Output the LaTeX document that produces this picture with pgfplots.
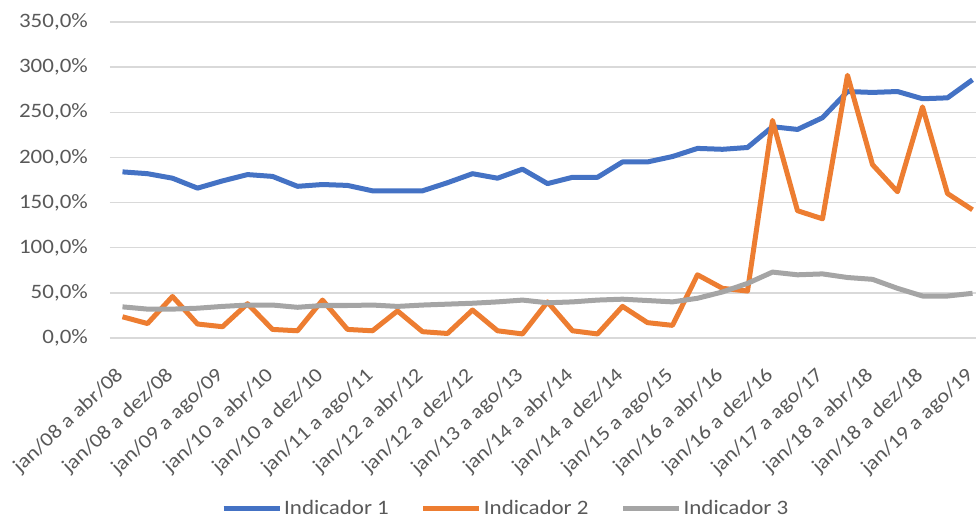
\documentclass[border=0pt]{standalone}
\usepackage{pgfplots}
\pgfplotsset{compat=1.18}
\usepackage{pgfplotstable}
\usepackage{fontspec}
\setmainfont{Carlito}[FakeStretch=1.12]
\definecolor{cblue}{HTML}{4472C4}
\definecolor{corange}{HTML}{ED7D31}
\definecolor{cgray}{HTML}{A5A5A5}
\definecolor{ctext}{HTML}{595959}
\definecolor{cgrid}{HTML}{D9D9D9}
\definecolor{caxis}{HTML}{BFBFBF}

\pgfplotstableread{
i b o g
0 184 23.5 34.5
1 182 16 32
2 177 46 32
3 166 15.5 33
4 174 12.5 35
5 181 38 36.5
6 179 9.5 36.5
7 168 8 34
8 170 42 36
9 169 9.5 36
10 163 8 36.5
11 163 30 35
12 163 7 36.5
13 172 5 37.5
14 182 31 38.5
15 177 8 40
16 187 4.5 42
17 171 40 39
18 178 8 40
19 178 4.5 42
20 195 35 43
21 195 17 41.5
22 201 14 40
23 210 70 44
24 209 55 51
25 211 52 60.5
26 234 241 73
27 231 141 70
28 244 132 71
29 273 291 67
30 272 192 65
31 273 162 55
32 265 256 46.5
33 266 160 46.5
34 286 142 49.5
}\data

\begin{document}
\begin{tikzpicture}
\useasboundingbox (-110bp,-182bp) rectangle (866bp,338bp);
\begin{axis}[
  scale only axis, width=866bp, height=316bp,
  xmin=-0.5, xmax=34.14, ymin=0, ymax=350,
  axis line style={draw=none},
  clip=false,
  ytick={50,100,...,350},
  extra y ticks={0},
  extra y tick style={grid style={draw=caxis, line width=1.3bp}},
  ymajorgrids,
  major grid style={draw=cgrid, line width=1.3bp},
  tick style={draw=none},
  /pgf/number format/assume math mode=true,
  yticklabel={\pgfmathprintnumber[fixed,fixed zerofill,precision=1,use comma]{\tick}\%},
  yticklabel style={anchor=east, inner sep=0pt, xshift=-22bp, font=\fontsize{20.5bp}{24bp}\selectfont},
  xtick={0,2,...,34},
  xticklabels={jan/08 a abr/08, jan/08 a dez/08, jan/09 a ago/09, jan/10 a abr/10, jan/10 a dez/10, jan/11 a ago/11, jan/12 a abr/12, jan/12 a dez/12, jan/13 a ago/13, jan/14 a abr/14, jan/14 a dez/14, jan/15 a ago/15, jan/16 a abr/16, jan/16 a dez/16, jan/17 a ago/17, jan/18 a abr/18, jan/18 a dez/18, jan/19 a ago/19},
  xticklabel style={yshift=-28bp, xshift=-8bp, rotate=43, anchor=north east, inner sep=0pt, font=\fontsize{20bp}{24bp}\selectfont},
  every tick label/.append style={text=ctext},
  legend style={at={(axis description cs:0.457,-0.538)}, anchor=center, draw=none,
    font=\fontsize{20.5bp}{24bp}\selectfont, text=ctext,
    nodes={inner sep=2bp},
    /tikz/every even column/.append style={column sep=30bp}},
  legend columns=3,
  legend image code/.code={\draw[#1, line width=5bp] (0bp,0bp) -- (56bp,0bp);},
  every axis plot/.append style={line width=5bp, line join=round, no marks},
]
\addplot[cblue] table[x=i,y=b]{\data};
\addlegendentry{Indicador 1}
\addplot[corange] table[x=i,y=o]{\data};
\addlegendentry{Indicador 2}
\addplot[cgray] table[x=i,y=g]{\data};
\addlegendentry{Indicador 3}
\end{axis}
\end{tikzpicture}
\end{document}
